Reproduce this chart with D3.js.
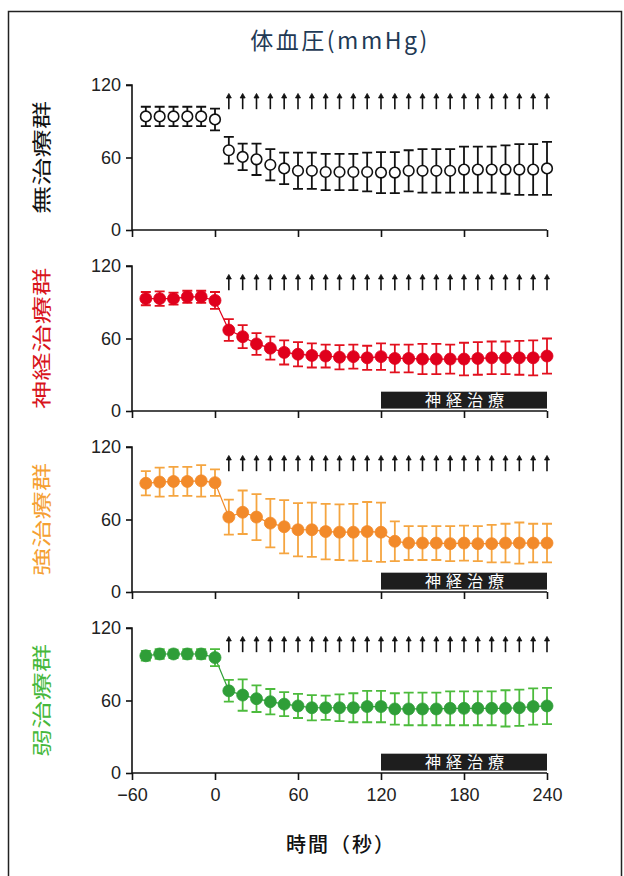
<!DOCTYPE html>
<html>
<head>
<meta charset="utf-8">
<script src="https://cdn.jsdelivr.net/npm/d3@7/dist/d3.min.js"></script>
<style>
  html, body { margin: 0; padding: 0; background: #fff; }
  svg { display: block; }
</style>
</head>
<body>
<svg id="chart" width="624" height="876"></svg>
<script>
// Sampling times (s); stimulation starts at 0
const times = [-50, -40, -30, -20, -10, 0, 10, 20, 30, 40, 50, 60, 70, 80, 90, 100,
               110, 120, 130, 140, 150, 160, 170, 180, 190, 200, 210, 220, 230, 240];
// Times marked with significance arrows
const arrowTimes = [10, 20, 30, 40, 50, 60, 70, 80, 90, 100, 110, 120,
                    130, 140, 150, 160, 170, 180, 190, 200, 210, 220, 230, 240];
const arrowRange = [100, 113];

const xTicks = [-60, 0, 60, 120, 180, 240];
const yTicks = [0, 60, 120];

// Group names
const groupNames = ["無治療群", "神経治療群", "強治療群", "弱治療群"];

// Blood pressure means (mmHg)
const untreatedMean = [94, 94, 94, 94, 94, 91.5, 66, 60.5, 58.5, 54, 51, 49, 49, 48, 48, 48,
                       48, 47.5, 47.5, 49, 49, 49, 49, 50, 50, 50, 50, 50, 50, 51];
const untreatedErr  = [8, 8, 8, 8, 8, 9, 11, 11, 13, 13, 13, 15, 15, 15, 15, 15,
                       16, 17, 17, 17, 18, 18, 18, 19, 19, 19, 20, 21, 21, 22];

const nerveMean = [93, 93, 93, 94.5, 94.5, 91.5, 67, 61.5, 55.5, 52, 48.5, 47, 46, 45.5, 44.5, 45,
                   44, 45, 43.5, 43.5, 43, 43, 43, 43, 43.5, 44, 44, 44, 44, 45.5];
const nerveErr  = [5.5, 6, 5, 5, 5, 7, 9, 9.5, 9, 9.5, 10, 10, 10, 9.5, 10, 10,
                   10, 11, 11.5, 11.5, 12.5, 12.5, 12, 13.5, 13.5, 13.5, 13.5, 14, 14.5, 14.5];

const strongMean = [90, 91, 91.5, 91.5, 92, 90.5, 62, 66, 62, 57, 54, 51.5, 51.5, 50, 49.5, 49.5,
                    50, 49.5, 42, 40.5, 40.5, 40.5, 40, 40.5, 40, 40, 40.5, 40.5, 40.5, 40.5];
const strongErr  = [10, 12, 12, 12, 13, 11, 14.5, 18, 19, 20, 22, 22, 22.5, 23, 23, 23.5,
                    24.5, 24.5, 16.5, 14, 14, 14, 14.5, 14.5, 14.5, 15.5, 16, 17, 16, 16];

const weakMean = [97, 98.5, 98.5, 98.5, 98.5, 95.5, 68, 64.5, 61.5, 59, 57, 55.5, 54, 54, 54, 54,
                  55, 55, 53, 53, 53, 53, 53.5, 53.5, 53.5, 53.5, 53.5, 54, 55, 55.5];
const weakErr  = [4, 4, 3.5, 4, 4, 7, 9, 13, 11, 10.5, 10, 10, 10.5, 10, 11, 12,
                  13, 13, 13, 13.5, 13.5, 13.5, 14, 14, 14, 14, 15, 15, 15, 15];

// Nerve treatment period (s) and its band label
const treatPeriod = [120, 240];
const treatBand = [2, 16];
const treatLabel = "神経治療";

const titleText = "体血圧(mmHg)";
const xTitleText = "時間（秒）";

// ---------------------------------------------------------------
const cjk = "'Noto Sans CJK JP', 'Noto Sans CJK SC', sans-serif";
const latin = "'Liberation Sans', Arial, sans-serif";

const groups = [
  { name: groupNames[0], mean: untreatedMean, err: untreatedErr, open: true,
    color: "#111", errColor: "#111", labelColor: "#111", line: false, treat: false },
  { name: groupNames[1], mean: nerveMean, err: nerveErr, open: false,
    color: "#e0001c", errColor: "#e2101e", labelColor: "#d8141c", line: true, treat: true },
  { name: groupNames[2], mean: strongMean, err: strongErr, open: false,
    color: "#f28a2a", errColor: "#f5a540", labelColor: "#f5a033", line: true, treat: true },
  { name: groupNames[3], mean: weakMean, err: weakErr, open: false,
    color: "#2f9e38", errColor: "#4cbb3c", labelColor: "#46b83c", line: true, treat: true }
];

const svg = d3.select("#chart");
svg.append("rect").attr("width", 624).attr("height", 876).attr("fill", "#fff");

// Outer frame
svg.append("path")
  .attr("d", "M8.5,876 V11.5 H621.5 V876")
  .attr("fill", "none").attr("stroke", "#222").attr("stroke-width", 1.5);

svg.append("text")
  .attr("x", 340).attr("y", 49)
  .attr("text-anchor", "middle")
  .attr("font-family", cjk).attr("font-size", 23)
  .attr("letter-spacing", 2.5)
  .attr("fill", "#1f3a55")
  .text(titleText);

const x = d3.scaleLinear().domain([-60, 240]).range([132, 547]);

const panelTops = [85, 266, 447, 628];
const panelH = 145;

groups.forEach((g, gi) => {
  const top = panelTops[gi];
  const y = d3.scaleLinear().domain([0, 120]).range([top + panelH, top]);
  const p = svg.append("g");

  // Treatment band
  if (g.treat) {
    p.append("rect")
      .attr("x", x(treatPeriod[0])).attr("width", x(treatPeriod[1]) - x(treatPeriod[0]))
      .attr("y", y(treatBand[1])).attr("height", y(treatBand[0]) - y(treatBand[1]))
      .attr("fill", "#1e1e1e");
    p.append("text")
      .attr("x", x((treatPeriod[0] + treatPeriod[1]) / 2) + 3)
      .attr("y", y((treatBand[0] + treatBand[1]) / 2) + 6)
      .attr("text-anchor", "middle")
      .attr("font-family", cjk).attr("font-size", 16)
      .attr("letter-spacing", 5)
      .attr("fill", "#fff")
      .text(treatLabel);
  }

  // Axes
  const yAxis = d3.axisLeft(y).tickValues(yTicks).tickSize(6).tickPadding(5).tickFormat(d3.format("d"));
  const ya = p.append("g").attr("transform", `translate(${x(-60)},0)`).call(yAxis);
  ya.select(".domain").attr("d", `M-6,${y(120)}H0V${y(0)}`);
  const xAxis = d3.axisBottom(x).tickValues(xTicks).tickSize(7).tickPadding(5);
  const xa = p.append("g").attr("transform", `translate(0,${y(0)})`).call(xAxis);
  xa.select(".domain").attr("d", `M${x(-60)},0H${x(240)}`);
  [ya, xa].forEach(a => {
    a.selectAll(".domain, line").attr("stroke", "#111").attr("stroke-width", 1.6);
    a.selectAll("text").attr("font-family", latin).attr("font-size", 18).attr("fill", "#222");
  });
  if (gi < groups.length - 1) xa.selectAll("text").remove();
  else xa.selectAll("text").attr("dy", "0.9em");

  // Group label (vertical)
  const cy = (y(0) + y(120)) / 2;
  p.append("text")
    .attr("transform", `translate(49,${cy}) rotate(-90) scale(1.45,1)`)
    .attr("text-anchor", "middle")
    .attr("font-family", cjk).attr("font-size", 19.5)
    .attr("fill", g.labelColor)
    .text(g.name);

  // Significance arrows
  const ar = p.append("g").attr("stroke", "#111").attr("fill", "#111");
  arrowTimes.forEach(t => {
    const ax = x(t), y0 = y(arrowRange[0]), y1 = y(arrowRange[1]);
    ar.append("line").attr("x1", ax).attr("x2", ax).attr("y1", y0).attr("y2", y1 + 3)
      .attr("stroke-width", 1.6);
    ar.append("path").attr("d", `M${ax - 2.5},${y1 + 4.5}L${ax},${y1}L${ax + 2.5},${y1 + 4.5}Z`)
      .attr("stroke-width", 0.8);
  });

  const data = times.map((t, i) => ({ t, m: g.mean[i], e: g.err[i] }));

  // Connecting line
  if (g.line) {
    p.append("path").datum(data)
      .attr("d", d3.line().x(d => x(d.t)).y(d => y(d.m)))
      .attr("fill", "none").attr("stroke", g.color).attr("stroke-width", 1.2);
  }

  // Error bars
  const eb = p.append("g").attr("stroke", g.errColor).attr("stroke-width", 1.8).attr("fill", "none");
  data.forEach(d => {
    const cx = x(d.t), hi = y(d.m + d.e), lo = y(d.m - d.e), w = 5;
    eb.append("path").attr("d",
      `M${cx},${hi}V${lo}M${cx - w},${hi}H${cx + w}M${cx - w},${lo}H${cx + w}`);
  });

  // Markers
  p.append("g").selectAll("circle").data(data).join("circle")
    .attr("cx", d => x(d.t)).attr("cy", d => y(d.m))
    .attr("r", g.open ? 5.3 : 6)
    .attr("fill", g.open ? "#fff" : g.color)
    .attr("stroke", g.color).attr("stroke-width", g.open ? 1.6 : 0.8);
});

svg.append("text")
  .attr("x", 341).attr("y", 852)
  .attr("text-anchor", "middle")
  .attr("font-family", cjk).attr("font-size", 20).attr("font-weight", 500)
  .attr("letter-spacing", 2)
  .attr("fill", "#111")
  .text(xTitleText);
</script>
</body>
</html>
